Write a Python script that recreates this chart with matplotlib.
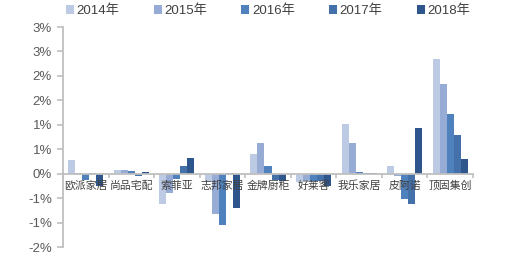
import numpy as np
import matplotlib
matplotlib.use('Agg')
import matplotlib.pyplot as plt

plt.rcParams['font.family'] = ['Liberation Sans', 'Noto Sans CJK SC', 'DejaVu Sans']

companies = ['欧派家居', '尚品宅配', '索菲亚', '志邦家居', '金牌厨柜',
             '好莱客', '我乐家居', '皮阿诺', '顶固集创']
years = ['2014年', '2015年', '2016年', '2017年', '2018年']

# values in percent
v2014 = [0.28, 0.07, -0.63, -0.15, 0.41, -0.18, 1.02, 0.16, 2.35]
v2015 = [0.02, 0.08, -0.40, -0.83, 0.63, -0.16, 0.63, -0.05, 1.84]
v2016 = [-0.13, 0.06, -0.10, -1.05, 0.16, -0.14, 0.03, -0.52, 1.22]
v2017 = [0.02, -0.04, 0.16, 0.02, -0.13, -0.14, 0.01, -0.62, 0.79]
v2018 = [-0.25, 0.03, 0.32, -0.71, -0.14, -0.26, 0.01, 0.94, 0.30]
series = [v2014, v2015, v2016, v2017, v2018]

colors = ['#bccae4', '#97acd5', '#4f81bd', '#4571ab', '#2f568c']

yticks = [3.0, 2.5, 2.0, 1.5, 1.0, 0.5, 0.0, -0.5, -1.0, -1.5]
ytick_labels = ['3%', '3%', '2%', '2%', '1%', '1%', '0%', '-1%', '-1%', '-2%']

fig = plt.figure(figsize=(5.2, 2.72), dpi=100)
ax = fig.add_axes([63 / 520, 1 - 247 / 272, 410 / 520, 220 / 272])

x = np.arange(len(companies))
w = 0.77 / 5
for i, vals in enumerate(series):
    ax.bar(x + (i - 2) * w, vals, width=w, color=colors[i], label=years[i], zorder=2)

ax.set_xlim(-0.5, len(companies) - 0.5)
ax.set_ylim(-1.5, 3.0)
ax.set_axisbelow(False)  # category labels sit on top of the bars

axis_gray = '#bfbfbf'
ax.spines['top'].set_visible(False)
ax.spines['right'].set_visible(False)
ax.spines['left'].set_color(axis_gray)
ax.spines['left'].set_linewidth(1.3)
ax.spines['bottom'].set_position(('data', 0))
ax.spines['bottom'].set_color(axis_gray)
ax.spines['bottom'].set_linewidth(1.3)
ax.spines['bottom'].set_zorder(3)

ax.set_yticks(yticks)
ax.set_yticklabels(ytick_labels)
ax.tick_params(axis='y', direction='out', length=4, width=1.2, color=axis_gray,
               labelsize=9.5, labelcolor='#595959', pad=4)

ax.set_xticks(x)
ax.set_xticklabels(companies, fontfamily=['Noto Sans CJK SC'], fontsize=7.8, color='#404040')
ax.set_xticks(np.arange(len(companies) + 1) - 0.5, minor=True)
ax.tick_params(axis='x', which='major', length=0, pad=5)
ax.tick_params(axis='x', which='minor', direction='out', length=3, width=1.2, color=axis_gray)

ax.legend(loc='center left', bbox_to_anchor=(66 / 520, 1 - 11 / 272),
          bbox_transform=fig.transFigure, ncol=5, frameon=False,
          handlelength=0.6, handleheight=0.6, handletextpad=0.2,
          columnspacing=2.6, borderpad=0, borderaxespad=0, labelcolor='#404040',
          prop={'family': ['Liberation Sans', 'Noto Sans CJK SC'], 'size': 9.5})

fig.savefig('out.png', dpi=100)
